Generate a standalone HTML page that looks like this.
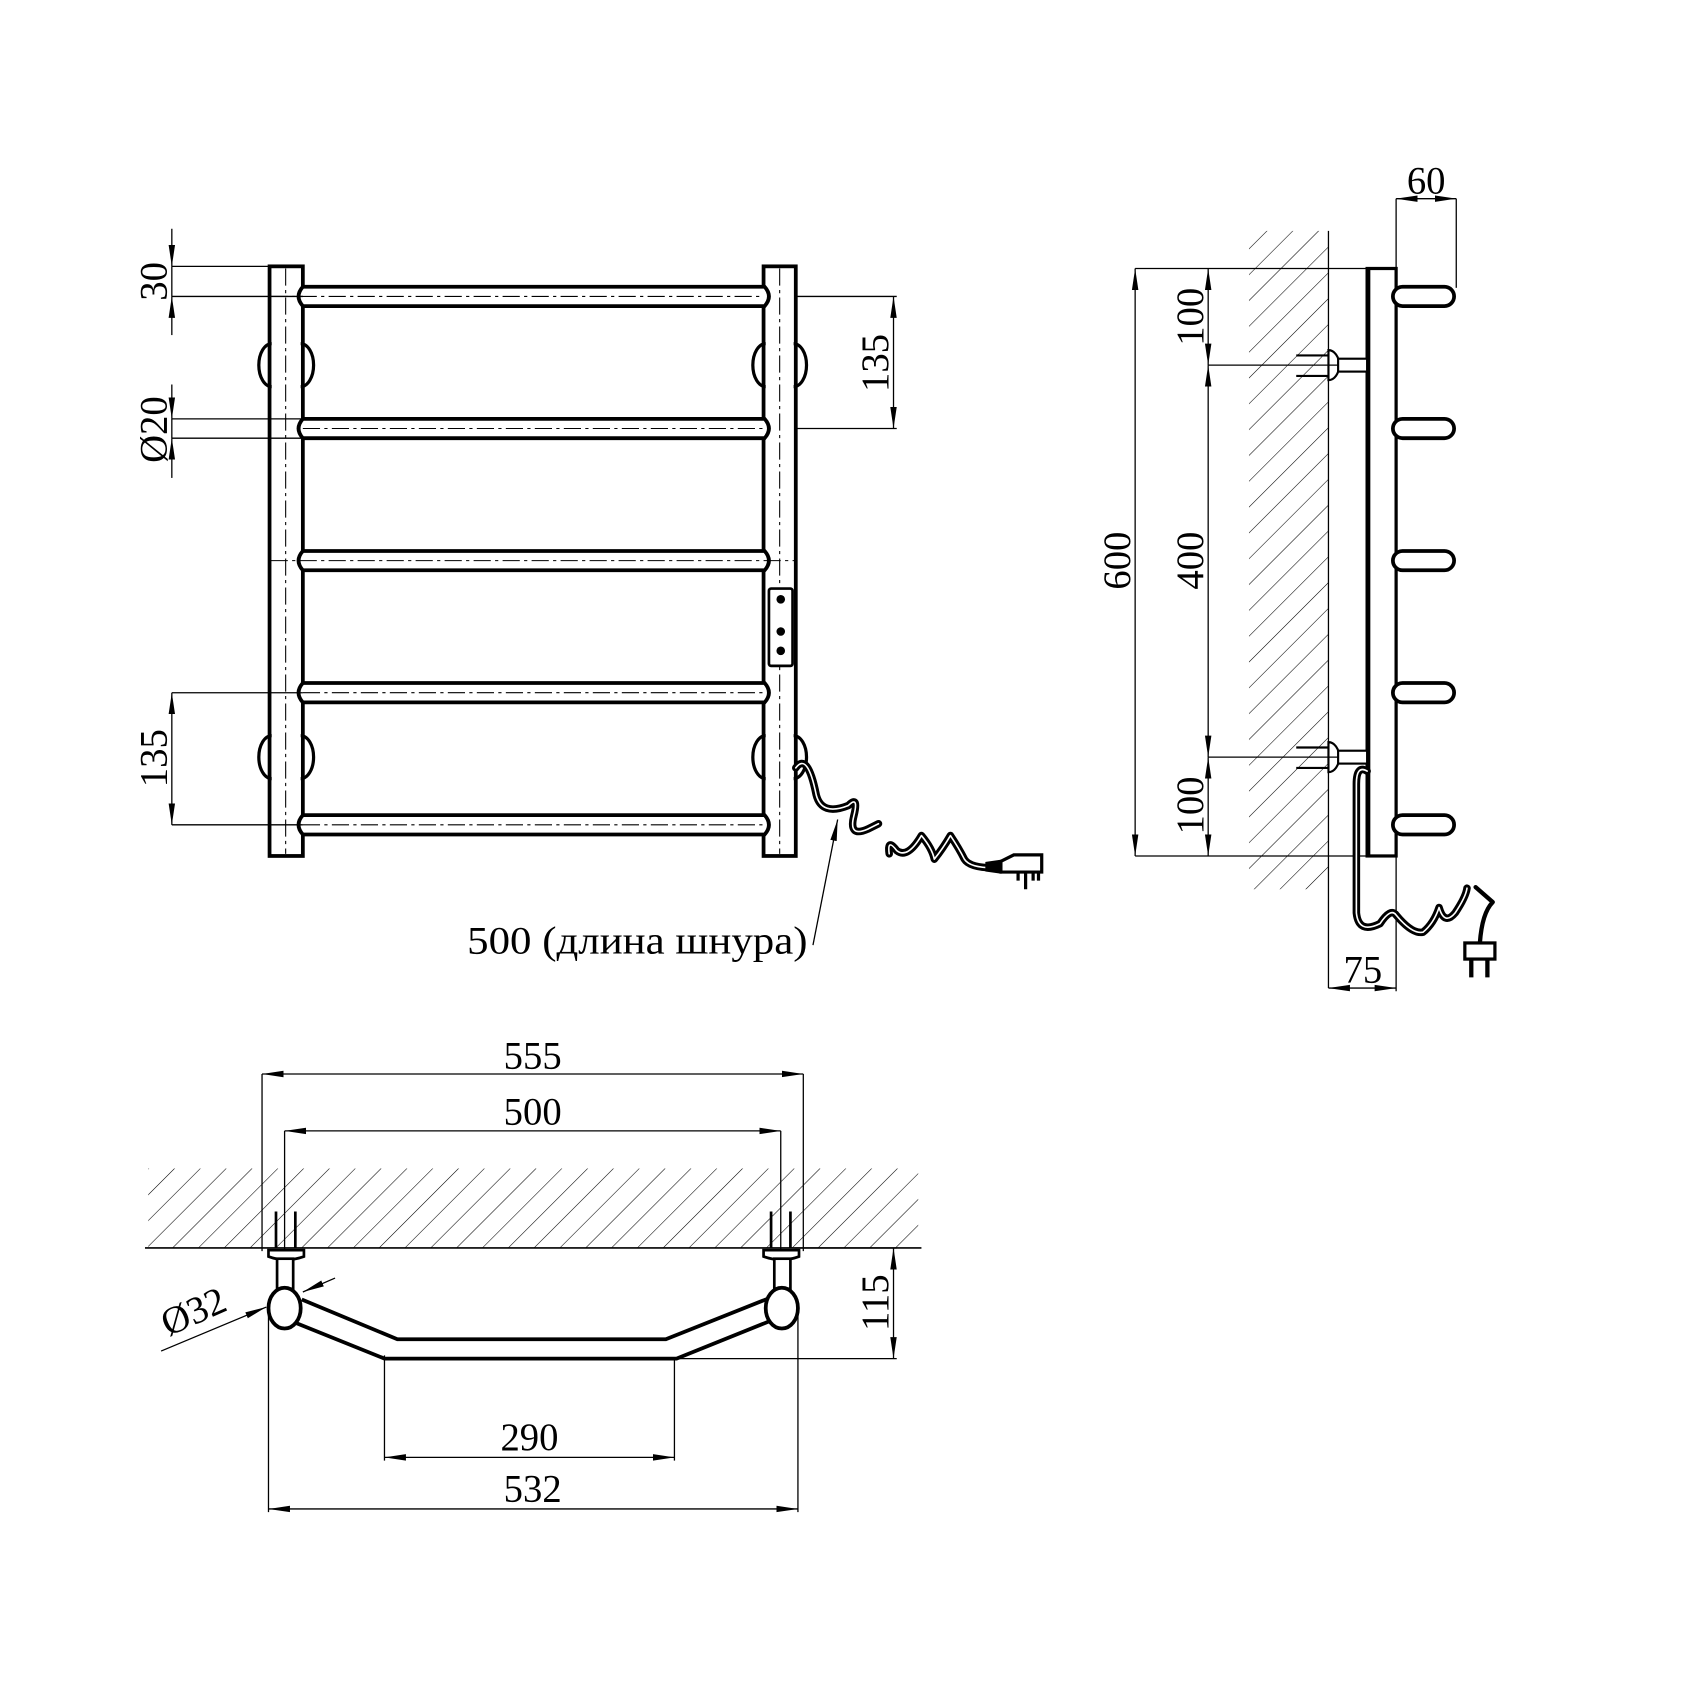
<!DOCTYPE html>
<html><head><meta charset="utf-8"><style>html,body{margin:0;padding:0;background:#fff}svg{display:block}</style></head><body>
<svg width="1685" height="1684" viewBox="0 0 1569 1568" preserveAspectRatio="none" xmlns="http://www.w3.org/2000/svg" font-family="Liberation Serif, serif" font-size="36">
<defs>
<marker id="a" viewBox="0 0 20 8" refX="20" refY="4" markerWidth="20" markerHeight="8" markerUnits="userSpaceOnUse" orient="auto-start-reverse"><path d="M0,1 L20,4 L0,7 Z" fill="#000"/></marker>
<pattern id="h" width="17" height="17" patternUnits="userSpaceOnUse" patternTransform="rotate(45)"><line x1="0" y1="0" x2="0" y2="17" stroke="#000" stroke-width="1"/></pattern>
<g id="rail"><path d="M282,267 L712,267 Q720,276 712,285 L282,285 Q274,276 282,267 Z" fill="#fff" stroke="#000" stroke-width="3.5"/></g>
<g id="pill"><rect x="1297" y="-9" width="57" height="18" rx="9" fill="#fff" stroke="#000" stroke-width="3.5"/></g>
</defs>
<g stroke="#000" fill="none">
<rect x="251" y="248" width="31" height="549" stroke-width="3.5" fill="#fff"/>
<rect x="711" y="248" width="30" height="549" stroke-width="3.5" fill="#fff"/>
<path d="M253,320 A12,20 0 0 0 253,360 M280,320 A12,20 0 0 1 280,360 M253,685 A12,20 0 0 0 253,725 M280,685 A12,20 0 0 1 280,725 M713,320 A12,20 0 0 0 713,360 M739,320 A12,20 0 0 1 739,360 M713,685 A12,20 0 0 0 713,725 M739,685 A12,20 0 0 1 739,725" stroke-width="3"/>
<use href="#rail"/><use href="#rail" y="123"/><use href="#rail" y="246"/><use href="#rail" y="369"/><use href="#rail" y="492"/>
<g stroke-width="1" stroke-dasharray="16,4,3,4">
<line x1="266" y1="250" x2="266" y2="795"/><line x1="726" y1="250" x2="726" y2="795"/>
<line x1="252" y1="522" x2="741" y2="522"/><line x1="252" y1="276" x2="711" y2="276"/><line x1="282" y1="399" x2="711" y2="399"/><line x1="282" y1="645" x2="711" y2="645"/><line x1="282" y1="768" x2="711" y2="768"/>
</g>
<rect x="716" y="548" width="22" height="72" rx="2" stroke-width="2.5" fill="#fff"/>
<g fill="#000" stroke="none"><circle cx="727" cy="558" r="4"/><circle cx="727" cy="588" r="4"/><circle cx="727" cy="606" r="4"/></g>
<g stroke-width="1.2">
<line x1="160" y1="248" x2="282" y2="248"/><line x1="160" y1="276" x2="282" y2="276"/>
<line x1="160" y1="213" x2="160" y2="248" marker-end="url(#a)"/><line x1="160" y1="312" x2="160" y2="276" marker-end="url(#a)"/><line x1="160" y1="248" x2="160" y2="276"/>
<line x1="160" y1="390" x2="282" y2="390"/><line x1="160" y1="408" x2="282" y2="408"/>
<line x1="160" y1="358" x2="160" y2="390" marker-end="url(#a)"/><line x1="160" y1="445" x2="160" y2="408" marker-end="url(#a)"/><line x1="160" y1="390" x2="160" y2="408"/>
<line x1="160" y1="645" x2="282" y2="645"/><line x1="160" y1="768" x2="282" y2="768"/>
<line x1="160" y1="645" x2="160" y2="768" marker-start="url(#a)" marker-end="url(#a)"/>
<line x1="741" y1="276" x2="835" y2="276"/><line x1="741" y1="399" x2="835" y2="399"/>
<line x1="832" y1="276" x2="832" y2="399" marker-start="url(#a)" marker-end="url(#a)"/>
<line x1="757" y1="880" x2="780" y2="763" marker-end="url(#a)"/>
</g>
<g stroke-linecap="round" stroke-linejoin="round">
<path d="M741,715 Q752,700 760,740 Q765,760 790,750 Q800,740 795,760 Q790,780 808,772 L818,767 M828,795 Q826,780 835,792 Q845,800 858,778 Q868,790 870,800 Q878,790 885,778 Q893,790 898,800 Q903,808 925,808" stroke-width="7"/>
<path d="M741,715 Q752,700 760,740 Q765,760 790,750 Q800,740 795,760 Q790,780 808,772 L818,767 M828,795 Q826,780 835,792 Q845,800 858,778 Q868,790 870,800 Q878,790 885,778 Q893,790 898,800 Q903,808 925,808" stroke="#fff" stroke-width="1.5"/>
</g>
<path d="M918,803 L932,801 L932,813 L918,811 Z" fill="#000"/>
<path d="M932,802 L944,796 L970,796 L970,812 L932,812 Z" fill="#fff" stroke-width="3"/>
<path d="M948,812 L948,820 M955,812 L955,820 M962,812 L962,820 M967,812 L967,820 M955,820 L955,828" stroke-width="3"/>
<rect x="1163" y="215" width="74" height="613" fill="url(#h)" stroke="none"/>
<line x1="1237" y1="215" x2="1237" y2="920" stroke-width="1.2"/>
<rect x="1273" y="250" width="27" height="547" stroke-width="3" fill="#fff"/>
<line x1="1275" y1="250" x2="1275" y2="797" stroke-width="2"/>
<g transform="translate(0,276)"><use href="#pill"/></g><g transform="translate(0,399)"><use href="#pill"/></g><g transform="translate(0,522)"><use href="#pill"/></g><g transform="translate(0,645)"><use href="#pill"/></g><g transform="translate(0,768)"><use href="#pill"/></g>
<g stroke-width="2">
<path d="M1237,326 A10,14 0 0 1 1237,354 Z" fill="#fff"/><rect x="1246" y="334" width="27" height="12" fill="#fff"/>
<path d="M1207,331 L1237,331 M1207,350 L1237,350" />
<path d="M1237,691 A10,14 0 0 1 1237,719 Z" fill="#fff"/><rect x="1246" y="699" width="27" height="12" fill="#fff"/>
<path d="M1207,696 L1237,696 M1207,715 L1237,715"/>
</g>
<g stroke-width="1.2">
<line x1="1057" y1="250" x2="1273" y2="250"/><line x1="1057" y1="797" x2="1300" y2="797"/>
<line x1="1057" y1="250" x2="1057" y2="797" marker-start="url(#a)" marker-end="url(#a)"/>
<line x1="1125" y1="340" x2="1246" y2="340"/><line x1="1125" y1="705" x2="1246" y2="705"/>
<line x1="1125" y1="250" x2="1125" y2="340" marker-start="url(#a)" marker-end="url(#a)"/>
<line x1="1125" y1="340" x2="1125" y2="705" marker-start="url(#a)" marker-end="url(#a)"/>
<line x1="1125" y1="705" x2="1125" y2="797" marker-start="url(#a)" marker-end="url(#a)"/>
<line x1="1300" y1="185" x2="1300" y2="250"/><line x1="1356" y1="185" x2="1356" y2="268"/>
<line x1="1300" y1="185" x2="1356" y2="185" marker-start="url(#a)" marker-end="url(#a)"/>
<line x1="1300" y1="797" x2="1300" y2="923"/>
<line x1="1237" y1="920" x2="1300" y2="920" marker-start="url(#a)" marker-end="url(#a)"/>
</g>
<g stroke-linecap="round" stroke-linejoin="round">
<path d="M1273,718 Q1263,712 1263,730 L1263,850 Q1265,870 1285,860 Q1295,845 1300,852 Q1315,870 1325,868 Q1335,860 1340,845 Q1345,862 1355,850 Q1365,835 1366,827" stroke-width="7"/>
<path d="M1273,718 Q1263,712 1263,730 L1263,850 Q1265,870 1285,860 Q1295,845 1300,852 Q1315,870 1325,868 Q1335,860 1340,845 Q1345,862 1355,850 Q1365,835 1366,827" stroke="#fff" stroke-width="1.5"/>
<path d="M1374,826 L1390,840 Q1380,850 1378,878" stroke-width="4"/>
</g>
<rect x="1364" y="878" width="28" height="15" stroke-width="3" fill="#fff"/>
<path d="M1370,893 L1370,910 M1385,893 L1385,910" stroke-width="4"/>
<rect x="138" y="1088" width="717" height="74" fill="url(#h)" stroke="none"/>
<line x1="135" y1="1162" x2="858" y2="1162" stroke-width="1.5"/>
<g stroke-width="1.2">
<line x1="244" y1="1000" x2="244" y2="1165"/><line x1="748" y1="1000" x2="748" y2="1165"/>
<line x1="244" y1="1000" x2="748" y2="1000" marker-start="url(#a)" marker-end="url(#a)"/>
<line x1="265" y1="1053" x2="265" y2="1165"/><line x1="727" y1="1053" x2="727" y2="1165"/>
<line x1="265" y1="1053" x2="727" y2="1053" marker-start="url(#a)" marker-end="url(#a)"/>
<line x1="630" y1="1265" x2="835" y2="1265"/><line x1="740" y1="1162" x2="835" y2="1162"/>
<line x1="832" y1="1162" x2="832" y2="1265" marker-start="url(#a)" marker-end="url(#a)"/>
<line x1="358" y1="1262" x2="358" y2="1360"/><line x1="628" y1="1265" x2="628" y2="1360"/>
<line x1="358" y1="1357" x2="628" y2="1357" marker-start="url(#a)" marker-end="url(#a)"/>
<line x1="250" y1="1225" x2="250" y2="1408"/><line x1="743" y1="1225" x2="743" y2="1408"/>
<line x1="250" y1="1405" x2="743" y2="1405" marker-start="url(#a)" marker-end="url(#a)"/>
<line x1="150" y1="1258" x2="248" y2="1217" marker-end="url(#a)"/>
<line x1="312" y1="1190" x2="282" y2="1203" marker-end="url(#a)"/>
</g>
<path d="M281,1210 L370,1247 L620,1247 L718,1208 M271,1230 L358,1265 L630,1265 L722,1228" stroke-width="3.5"/>
<g stroke-width="2.5">
<path d="M250,1170 L250,1164 L283,1164 L283,1170 Q266,1176 250,1170 Z" fill="#fff"/>
<path d="M257,1162 L257,1128 M275,1162 L275,1128"/>
<rect x="258" y="1172" width="15" height="28" fill="#fff"/>
<ellipse cx="265" cy="1218" rx="15" ry="19" fill="#fff" stroke-width="3.5"/>
<path d="M711,1170 L711,1164 L744,1164 L744,1170 Q728,1176 711,1170 Z" fill="#fff"/>
<path d="M718,1162 L718,1128 M736,1162 L736,1128"/>
<rect x="721" y="1172" width="15" height="28" fill="#fff"/>
<ellipse cx="728" cy="1218" rx="15" ry="19" fill="#fff" stroke-width="3.5"/>
</g>
</g>
<g fill="#000">
<text transform="translate(155,262) rotate(-90)" text-anchor="middle">30</text>
<text transform="translate(155,400) rotate(-90)" text-anchor="middle">Ø20</text>
<text transform="translate(155,706) rotate(-90)" text-anchor="middle">135</text>
<text transform="translate(827,338) rotate(-90)" text-anchor="middle">135</text>
<text x="435" y="888" textLength="317" lengthAdjust="spacingAndGlyphs">500 (длина шнура)</text>
<text transform="translate(1052,522) rotate(-90)" text-anchor="middle">600</text>
<text transform="translate(1120,295) rotate(-90)" text-anchor="middle">100</text>
<text transform="translate(1120,522) rotate(-90)" text-anchor="middle">400</text>
<text transform="translate(1120,750) rotate(-90)" text-anchor="middle">100</text>
<text x="1328" y="180" text-anchor="middle">60</text>
<text x="1269" y="915" text-anchor="middle">75</text>
<text x="496" y="995" text-anchor="middle">555</text>
<text x="496" y="1047" text-anchor="middle">500</text>
<text transform="translate(827,1213) rotate(-90)" text-anchor="middle">115</text>
<text transform="translate(185,1232) rotate(-24)" text-anchor="middle">Ø32</text>
<text x="493" y="1350" text-anchor="middle">290</text>
<text x="496" y="1398" text-anchor="middle">532</text>
</g>
</svg>
</body></html>
